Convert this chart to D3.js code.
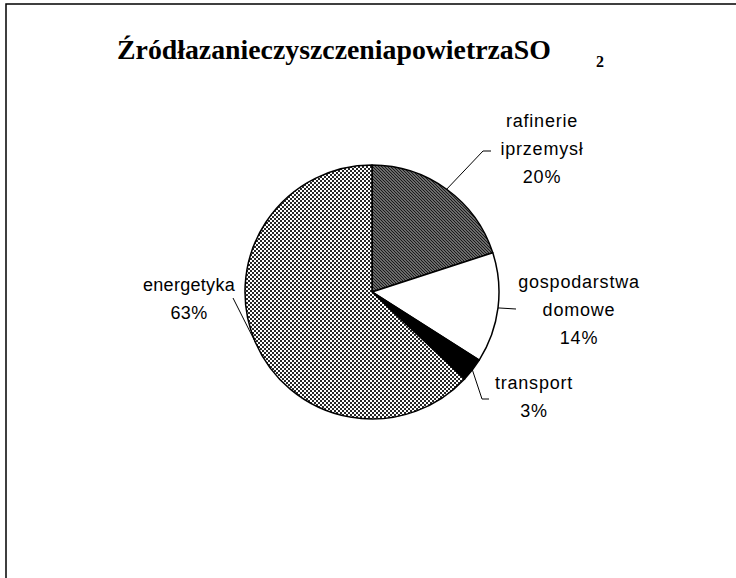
<!DOCTYPE html>
<html>
<head>
<meta charset="utf-8">
<script src="https://cdn.jsdelivr.net/npm/d3@7"></script>
<style>
  body { margin: 0; background: #fff; }
  svg { display: block; }
</style>
</head>
<body>
<svg id="chart" width="736" height="578"></svg>
<script>
// data
const categories = ['rafinerie iprzemysł', 'gospodarstwa domowe', 'transport', 'energetyka'];
const values = [20, 14, 3, 63];
const labelLines = [['rafinerie', 'iprzemysł', '20%'], ['gospodarstwa', 'domowe', '14%'], ['transport', '3%'], ['energetyka', '63%']];

const svg = d3.select('#chart');
const cx = 372, cy = 292, radius = 127;

// fill patterns
const defs = svg.append('defs');
const hatch = defs.append('pattern')
  .attr('id', 'hatch').attr('patternUnits', 'userSpaceOnUse')
  .attr('width', 3).attr('height', 3);
hatch.append('rect').attr('width', 3).attr('height', 3).attr('fill', '#c4c4c4');
hatch.append('path').attr('d', 'M-1,-1 L4,4 M-1,2 L1,4 M2,-1 L4,1')
  .attr('stroke', '#1a1a1a').attr('stroke-width', 1.5);

const checker = defs.append('pattern')
  .attr('id', 'checker').attr('patternUnits', 'userSpaceOnUse')
  .attr('width', 4).attr('height', 4);
checker.append('rect').attr('width', 4).attr('height', 4).attr('fill', '#fff');
checker.append('rect').attr('width', 2).attr('height', 2).attr('fill', '#262626')
  .attr('shape-rendering', 'crispEdges');
checker.append('rect').attr('x', 2).attr('y', 2).attr('width', 2).attr('height', 2).attr('fill', '#262626')
  .attr('shape-rendering', 'crispEdges');

const fills = ['url(#hatch)', '#fff', '#000', 'url(#checker)'];

// frame (clipped on the right / bottom like the original)
svg.append('rect')
  .attr('x', 6).attr('y', 4).attr('width', 800).attr('height', 700)
  .attr('fill', 'none').attr('stroke', '#000').attr('stroke-width', 1.5);

// title
svg.append('text')
  .attr('x', 117).attr('y', 59)
  .style('font-family', '"Liberation Serif", "Times New Roman", serif')
  .style('font-weight', 'bold').style('font-size', '27.8px')
  .text('ŹródłazanieczyszczeniapowietrzaSO');
svg.append('text')
  .attr('x', 596).attr('y', 67)
  .style('font-family', '"Liberation Serif", "Times New Roman", serif')
  .style('font-weight', 'bold').style('font-size', '16px')
  .text('2');

const pie = d3.pie().sort(null).value(d => d);
const arcs = pie(values);
const arc = d3.arc().innerRadius(0).outerRadius(radius);

const g = svg.append('g').attr('transform', `translate(${cx},${cy})`);
g.selectAll('path.slice')
  .data(arcs)
  .enter()
  .append('path')
  .attr('class', 'slice')
  .attr('d', arc)
  .attr('fill', (d, i) => fills[i])
  .attr('stroke', '#000')
  .attr('stroke-width', 1.5)
  .attr('stroke-linejoin', 'round');

// label layout: leader elbow/end points (relative to centre) and first baseline
const layout = [
  { elbow: [111, -141], end: [119, -141], label: [542, 127], ls: 0.8 },
  { elbow: [144, 17], end: [144, 17], label: [579, 288], ls: 0.8 },
  { elbow: [110, 107], end: [117, 107], label: [534, 389], ls: 0.8 },
  { elbow: [-139, 6], end: [-139, 6], label: [189, 291], ls: 0.3 }
];

const lg = g.append('g');
arcs.forEach((d, i) => {
  const mid = (d.startAngle + d.endAngle) / 2;
  const p0 = [radius * Math.sin(mid), -radius * Math.cos(mid)];
  const L = layout[i];
  lg.append('polyline')
    .attr('points', [p0, L.elbow, L.end].map(p => p.join(',')).join(' '))
    .attr('fill', 'none').attr('stroke', '#000').attr('stroke-width', 1);
  const t = svg.append('text')
    .attr('text-anchor', 'middle')
    .style('font-family', '"Liberation Sans", Arial, sans-serif')
    .style('font-size', '18px')
    .style('letter-spacing', L.ls + 'px')
    .attr('x', L.label[0]).attr('y', L.label[1]);
  labelLines[i].forEach((s, k) => {
    t.append('tspan').attr('x', L.label[0]).attr('dy', k === 0 ? 0 : 28).text(s);
  });
});
</script>
</body>
</html>
